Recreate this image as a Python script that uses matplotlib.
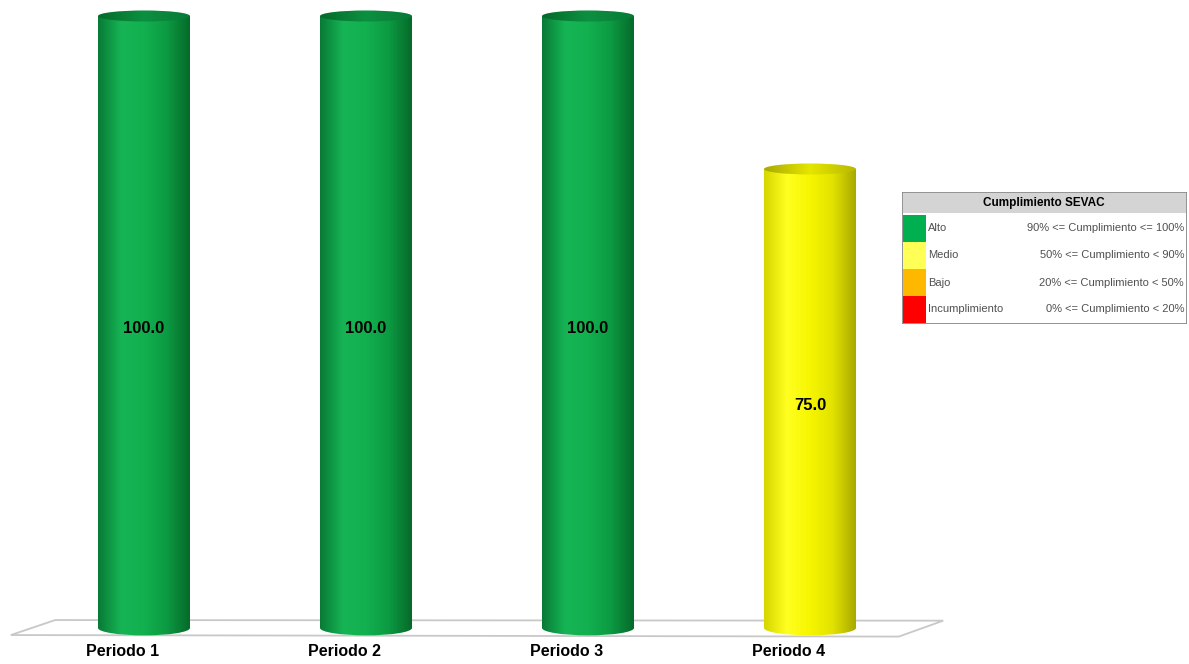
import numpy as np
import matplotlib
matplotlib.use("Agg")
import matplotlib.pyplot as plt
from matplotlib.patches import Rectangle, Ellipse, Polygon
from matplotlib.colors import LinearSegmentedColormap

# datos
periodos = ["Periodo 1", "Periodo 2", "Periodo 3", "Periodo 4"]
valores = [100.0, 100.0, 100.0, 75.0]

# leyenda
niveles = ["Alto", "Medio", "Bajo", "Incumplimiento"]
rangos = ["90% <= Cumplimiento <= 100%", "50% <= Cumplimiento < 90%",
          "20% <= Cumplimiento < 50%", "0% <= Cumplimiento < 20%"]
umbrales = [90, 50, 20, 0]
colores_leyenda = ["#00B050", "#FFFF55", "#FFB800", "#FF0000"]

# degradados para los cilindros (cuerpo y tapa)
gradientes = {
    "Alto": ["#087a36", "#16b455", "#12b04f", "#0c9a42", "#066a2a"],
    "Medio": ["#d6d600", "#ffff20", "#f6f600", "#e2e200", "#a8a800"],
    "Bajo": ["#d08f00", "#ffc830", "#ffb800", "#e09a00", "#a87000"],
    "Incumplimiento": ["#b00000", "#ff3030", "#f00000", "#d00000", "#900000"],
}
tapas = {
    "Alto": ["#066a2a", "#0c9040", "#087a36"],
    "Medio": ["#a8a800", "#e6e600", "#b8b800"],
    "Bajo": ["#a87000", "#e09a00", "#b07800"],
    "Incumplimiento": ["#900000", "#d00000", "#a00000"],
}

plt.rcParams["font.family"] = ["Liberation Sans", "DejaVu Sans"]

fig = plt.figure(figsize=(11.89, 6.64), dpi=100)
ax = fig.add_axes([0, 0, 1, 1])
ax.set_xlim(-0.6486, 4.707)
ax.set_ylim(-5.88, 102.61)
ax.axis("off")

ancho = 0.414
alto_tapa = 1.8
alto_base = 2.4
x = np.arange(len(periodos))

# piso
piso = Polygon([(-0.60, -1.15), (-0.40, 1.3), (3.60, 1.2), (3.40, -1.4)],
               closed=True, facecolor="white", edgecolor="#c8c8c8", lw=1.3, zorder=1)
ax.add_patch(piso)

grad = np.linspace(0, 1, 256).reshape(1, -1)


def nivel_de(v):
    for n, u in zip(niveles, umbrales):
        if v >= u:
            return n
    return niveles[-1]


for xi, v, etiqueta in zip(x, valores, periodos):
    nivel = nivel_de(v)
    cmap = LinearSegmentedColormap.from_list(nivel, gradientes[nivel])
    x0, x1 = xi - ancho / 2, xi + ancho / 2
    # cuerpo
    rect = Rectangle((x0, 0), ancho, v, facecolor="none", edgecolor="none")
    ax.add_patch(rect)
    im = ax.imshow(grad, cmap=cmap, extent=[x0, x1, 0, v], aspect="auto", zorder=2)
    im.set_clip_path(rect)
    # base
    base = Ellipse((xi, 0), ancho, alto_base, facecolor="none", edgecolor="none")
    ax.add_patch(base)
    im = ax.imshow(grad, cmap=cmap, extent=[x0, x1, -alto_base, alto_base],
                   aspect="auto", zorder=2)
    im.set_clip_path(base)
    # tapa
    tapa = Ellipse((xi, v), ancho, alto_tapa, facecolor="none", edgecolor="none", zorder=4)
    ax.add_patch(tapa)
    cmap_tapa = LinearSegmentedColormap.from_list(nivel + "_t", tapas[nivel])
    im = ax.imshow(grad, cmap=cmap_tapa, extent=[x0, x1, v - alto_tapa, v + alto_tapa],
                   aspect="auto", zorder=3)
    im.set_clip_path(tapa)
    # etiquetas
    ax.annotate(f"{v:.1f}", (xi, v / 2), xytext=(0, -5), textcoords="offset points",
                ha="center", va="center", fontsize=12, fontweight="bold",
                color="black", zorder=5)
    ax.text(xi - 0.095, -3.8, etiqueta, ha="center", va="center",
            fontsize=11.5, fontweight="bold", color="black", zorder=5)

# leyenda
lax = fig.add_axes([902 / 1189, (664 - 324) / 664, 285 / 1189, 132 / 664])
lax.set_xlim(0, 285)
lax.set_ylim(132, 0)
lax.axis("off")
lax.add_patch(Rectangle((0, 0), 285, 132, facecolor="white", edgecolor="#808080", lw=1.2))
lax.add_patch(Rectangle((1, 1), 283, 20, facecolor="#d4d4d4", edgecolor="none"))
lax.text(142, 11, "Cumplimiento SEVAC", ha="center", va="center",
         fontsize=8.5, fontweight="bold", color="black")
fila = 27
for i, (n, r, c) in enumerate(zip(niveles, rangos, colores_leyenda)):
    y0 = 23 + i * fila
    lax.add_patch(Rectangle((1, y0), 23, fila, facecolor=c, edgecolor="none"))
    lax.text(26, y0 + fila / 2, n, ha="left", va="center", fontsize=8, color="#505050")
    lax.text(282, y0 + fila / 2, r, ha="right", va="center", fontsize=8, color="#505050")

fig.savefig("out.png", dpi=100)
